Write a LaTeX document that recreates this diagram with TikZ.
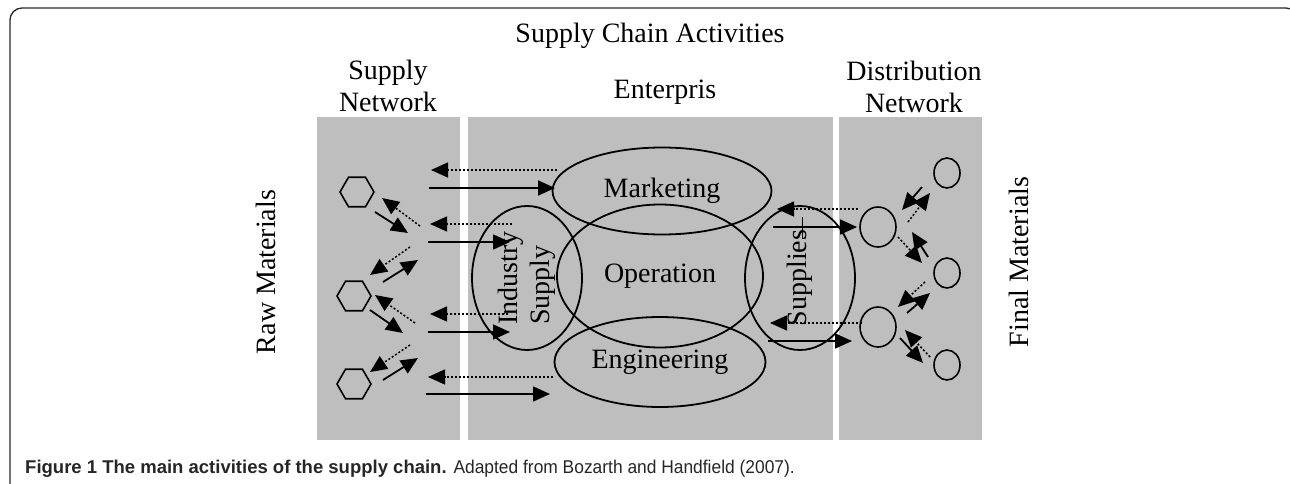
\documentclass[tikz,border=0pt]{standalone}
\usepackage{fontspec}
\usepackage{graphicx}
\setmainfont{Liberation Serif}
\newfontfamily\capfont{Liberation Sans}
\usetikzlibrary{shapes.geometric,arrows.meta}
\definecolor{panelgray}{RGB}{190,190,190}
\tikzset{
  lbl/.style={font=\fontsize{28}{32}\selectfont,align=center,inner sep=0pt},
  oval/.style={ellipse,draw,line width=1.8pt,inner sep=0pt,align=left,
    font=\fontsize{28}{32}\selectfont},
  hexa/.style={regular polygon,regular polygon sides=6,draw,line width=1.6pt,
    minimum size=34pt,inner sep=0pt},
  rnd/.style={ellipse,draw,line width=1.6pt,inner sep=0pt},
  flow/.style={line width=1.8pt,-{Triangle[length=17pt,width=15pt]}},
  info/.style={line width=1.5pt,dash pattern=on 2pt off 2pt,-{Triangle[length=17pt,width=15pt]}}
}
\begin{document}
\begin{tikzpicture}[x=1pt,y=-1pt]
  \useasboundingbox (0,0) rectangle (1290,484);
  % frame and panels
  \draw[line width=1.3pt,rounded corners=12pt,draw=black!85] (10,496) -- (10,8) -- (1298,8) -- (1298,496);
  \fill[panelgray] (317,117) rectangle (460,440);
  \fill[panelgray] (468,117) rectangle (833,440);
  \fill[panelgray] (839,117) rectangle (982,440);

  % headings
  \node[lbl,anchor=base] (sca) at (650,43) {Supply Chain Activities};
  \node[lbl,anchor=north] (snet) at (388,60) {Supply\\Network};
  \node[lbl,anchor=base] (ent) at (665,99) {Enterpris};
  \node[lbl,anchor=north] (dnet) at (914,61) {Distribution\\Network};
  \node[lbl,rotate=90] (raw) at (266,272) {Raw Materials};
  \node[lbl,rotate=90] (fin) at (1019,262) {Final Materials};

  % enterprise
  \node[oval,minimum width=219pt,minimum height=87pt] (mkt) at (662,191) {Marketing};
  \node[oval,minimum width=206pt,minimum height=143pt] (ops) at (660,276) {Operation};
  \node[oval,minimum width=211pt,minimum height=90pt] (eng) at (660,362) {Engineering};
  \node[oval,rotate=90,minimum width=144pt,minimum height=110pt] (ind) at (527,278) {Industry\\Supply};
  \node[oval,rotate=90,minimum width=144pt,minimum height=110pt] (sup) at (800,278) {Supplies};
  \draw[line width=0.8pt] (802,217) -- (802,239);

  % suppliers and customers
  \node[hexa] (hex1) at (357,192) {};
  \node[hexa] (hex2) at (354,296) {};
  \node[hexa] (hex3) at (354,384) {};
  \node[rnd,minimum width=36pt,minimum height=40pt] (dc1) at (878,227) {};
  \node[rnd,minimum width=36pt,minimum height=40pt] (dc2) at (878,327) {};
  \node[rnd,minimum width=26pt,minimum height=30pt] (cu1) at (947,173) {};
  \node[rnd,minimum width=26pt,minimum height=30pt] (cu2) at (947,273) {};
  \node[rnd,minimum width=26pt,minimum height=30pt] (cu3) at (947,365) {};

  \foreach \n/\x/\y in {
    p1/420/226, q1/382/198, p2/375/212, q2/408/233,
    p3/410/247, q3/370/275, p4/383/282, q4/418/260,
    p5/415/323, q5/375/295, p6/370/310, q6/403/333,
    p7/410/345, q7/370/372, p8/383/380, q8/418/358,
    a1/557/170, b1/431/170, a2/429/188, b2/555/188,
    a3/512/224, b3/430/224, a4/428/242, b4/510/242,
    a5/508/314, b5/430/314, a6/428/332, b6/510/332,
    a7/553/377, b7/428/377, a8/426/394, b8/550/394,
    r1/858/209, t1/777/209, r2/773/227, t2/857/227,
    r3/862/323, t3/770/323, r4/768/341, t4/852/341,
    u1/922/187, v1/902/210, u2/908/222, v2/930/193,
    u3/898/237, v3/922/263, u4/928/257, v4/912/232,
    u5/925/282, v5/898/307, u6/907/313, v6/930/293,
    u7/930/357, v7/905/330, u8/900/338, v8/923/363}
    \coordinate (\n) at (\x,\y);

  \foreach \from/\to in {p2/q2,p4/q4,p6/q6,p8/q8,a2/b2,a4/b4,a6/b6,a8/b8,
    r2/t2,r4/t4,u1/v1,u4/v4,u6/v6,u8/v8}
    \draw[flow] (\from) -- (\to);
  \foreach \from/\to in {p1/q1,p3/q3,p5/q5,p7/q7,a1/b1,a3/b3,a5/b5,a7/b7,
    r1/t1,r3/t3,u2/v2,u3/v3,u5/v5,u7/v7}
    \draw[info] (\from) -- (\to);

  \node[anchor=base west,inner sep=0pt,font=\capfont\fontsize{18.5}{22}\selectfont,text=black!85] (cap) at (25,473)
    {\textbf{Figure 1 The main activities of the supply chain.} \scalebox{0.94}[1]{Adapted from Bozarth and Handfield (2007).}};
\end{tikzpicture}
\end{document}
